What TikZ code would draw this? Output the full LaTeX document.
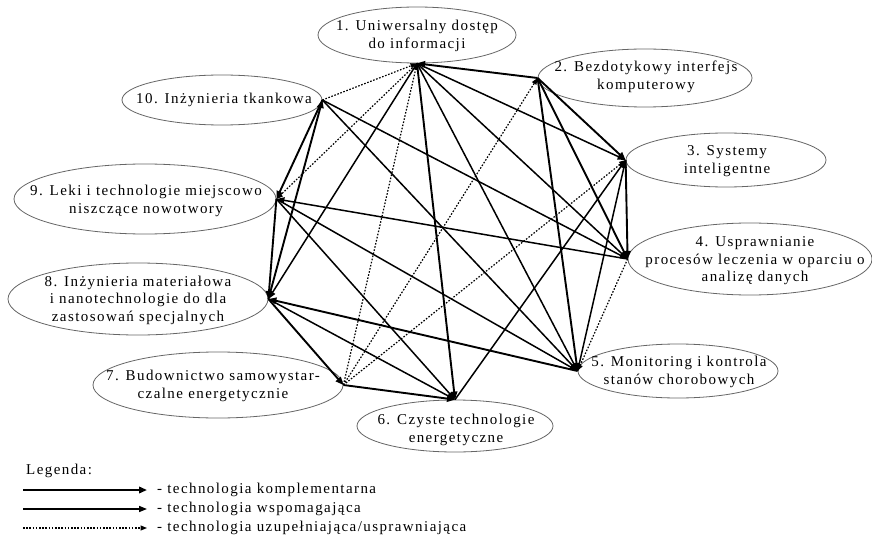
\documentclass[tikz,border=0pt]{standalone}
\usepackage{fontspec}
\setmainfont[LetterSpace=9.5]{Liberation Serif}
\usetikzlibrary{arrows.meta,shapes.geometric}
\begin{document}
\begin{tikzpicture}[x=1pt,y=-1pt,
  ell/.style={draw=black!60, line width=0.8pt, ellipse, inner sep=0pt},
  lbl/.style={font=\fontsize{15}{17.5}\selectfont, align=center, inner sep=0pt},
  komp/.style={line width=1.9pt, -{Triangle[length=8pt,width=6.5pt]}},
  wsp/.style={line width=1.5pt, -{Triangle[length=8pt,width=6pt]}},
  uzup/.style={line width=1.2pt, dash pattern=on 1.6pt off 1.6pt, -{Triangle[length=6.5pt,width=5pt]}},
]
\useasboundingbox (0,0) rectangle (872,540);
\fill[white] (0,0) rectangle (872,540);

% ellipses
\node[ell, minimum width=198pt, minimum height=56pt] (e1) at (417,35) {};
\node[ell, minimum width=214pt, minimum height=58pt] (e2) at (645,78) {};
\node[ell, minimum width=200pt, minimum height=54pt] (e3) at (726,160) {};
\node[ell, minimum width=244pt, minimum height=72pt] (e4) at (750,259) {};
\node[ell, minimum width=200pt, minimum height=54pt] (e5) at (678,371) {};
\node[ell, minimum width=196pt, minimum height=52pt] (e6) at (455,426) {};
\node[ell, minimum width=250pt, minimum height=66pt] (e7) at (218,385) {};
\node[ell, minimum width=260pt, minimum height=72pt] (e8) at (138,299) {};
\node[ell, minimum width=262pt, minimum height=70pt] (e9) at (145,199) {};
\node[ell, minimum width=200pt, minimum height=50pt] (e10) at (222,100) {};

% labels
\node[lbl] (t1) at (417,36) {1. Uniwersalny dostęp\\do informacji};
\node[lbl] (t2) at (646,77) {2. Bezdotykowy interfejs\\komputerowy};
\node[lbl] (t3) at (727,161) {3. Systemy\\inteligentne};
\node[lbl] (t4) at (755,261) {4. Usprawnianie\\procesów leczenia w oparciu o\\analizę danych};
\node[lbl] (t5) at (679,372) {5. Monitoring i kontrola\\stanów chorobowych};
\node[lbl] (t6) at (456,430) {6. Czyste technologie\\energetyczne};
\node[lbl] (t7) at (213,386) {7. Budownictwo samowystar-\\czalne energetycznie};
\node[lbl] (t8) at (138,300) {8. Inżynieria materiałowa\\i nanotechnologie do dla\\zastosowań specjalnych};
\node[lbl] (t9) at (146,201) {9. Leki i technologie miejscowo\\niszczące nowotwory};
\node[lbl] (t10) at (224,100) {10. Inżynieria tkankowa};

% dotted connectors
\draw[uzup] (e10.east) -- (e1.south);
\draw[uzup] (e1.south) -- (e9.east);
\draw[uzup] (e7.east) -- (e1.south);
\draw[uzup] (e7.east) -- (e2.west);
\draw[uzup] (e7.east) -- (e3.west);
\draw[uzup] (e4.west) -- (e5.west);

% solid connectors
\draw[komp] (e2.west) -- (e1.south);
\draw[wsp] (e1.south) -- (e3.west);
\draw[wsp] (e1.south) -- (e4.west);
\draw[wsp] (e1.south) -- (e5.west);
\draw[komp] (e1.south) -- (e6.north);
\draw[wsp] (e1.south) -- (e8.east);
\draw[komp] (e2.west) -- (e3.west);
\draw[komp] (e2.west) -- (e4.west);
\draw[komp] (e2.west) -- (e5.west);
\draw[komp] (e3.west) -- (e4.west);
\draw[wsp] (e5.west) -- (e3.west);
\draw[wsp] (e6.north) -- (e3.west);
\draw[komp] (e10.east) -- (e9.east);
\draw[komp] (e8.east) -- (e10.east);
\draw[wsp] (e10.east) -- (e4.west);
\draw[wsp] (e10.east) -- (e5.west);
\draw[komp] (e9.east) -- (e8.east);
\draw[wsp] (e4.west) -- (e9.east);
\draw[wsp] (e9.east) -- (e5.west);
\draw[wsp] (e9.east) -- (e6.north);
\draw[komp] (e5.west) -- (e8.east);
\draw[wsp] (e8.east) -- (e6.north);
\draw[komp] (e8.east) -- (e7.east);
\draw[komp] (e7.east) -- (e6.north);

% legend
\node[lbl, anchor=west] (lg) at (26,471) {Legenda:};
\coordinate (la1) at (23,490); \coordinate (lb1) at (147,490);
\coordinate (la2) at (23,509); \coordinate (lb2) at (147,509);
\coordinate (la3) at (23,528); \coordinate (lb3) at (147,528);
\draw[komp] (la1) -- (lb1);
\draw[wsp] (la2) -- (lb2);
\draw[uzup] (la3) -- (lb3);
\node[lbl, anchor=west] (lt1) at (157,490) {- technologia komplementarna};
\node[lbl, anchor=west] (lt2) at (157,509) {- technologia wspomagająca};
\node[lbl, anchor=west] (lt3) at (157,528) {- technologia uzupełniająca/usprawniająca};
\end{tikzpicture}
\end{document}
